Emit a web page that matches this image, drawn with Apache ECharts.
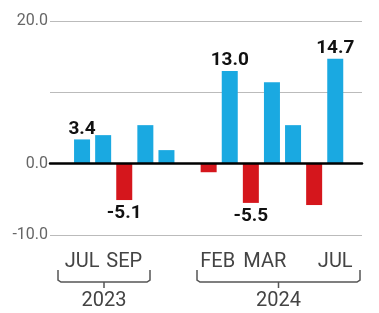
<!DOCTYPE html>
<html>
<head>
<meta charset="utf-8">
<script src="https://cdn.jsdelivr.net/npm/echarts@6/dist/echarts.min.js"></script>
<style>
  html, body { margin: 0; padding: 0; background: #fff; }
  #chart { width: 379px; height: 313px; }
</style>
</head>
<body>
<div id="chart"></div>
<script>
const months = ['JUL', 'AUG', 'SEP', 'OCT', 'NOV', 'DEC', 'JAN', 'FEB', 'MAR', 'APR', 'MAY', 'JUN', 'JUL'];
const values = [3.4, 4.0, -5.1, 5.4, 1.9, '-', -1.2, 13.0, -5.5, 11.4, 5.4, -5.8, 14.7];
const shownMonths = [0, 2, 7, 8, 12];
const labelledBars = [0, 2, 7, 8, 12];
const years = ['2023', '2024'];
const yTicks = [-10, 0, 10, 20];

const BLUE = '#1aa9e1';
const RED = '#d5161c';

const chart = echarts.init(document.getElementById('chart'));

const barData = values.map((v, i) => {
  if (v === '-') return '-';
  const item = { value: v, itemStyle: { color: v >= 0 ? BLUE : RED } };
  if (labelledBars.includes(i)) {
    item.label = {
      show: true,
      position: v >= 0 ? 'top' : 'bottom',
      distance: v >= 0 ? 1 : 4,
      formatter: (p) => p.value.toFixed(1)
    };
  }
  return item;
});

// brackets under the month labels
const bracket = (x1, x2, y) => {
  const mid = (x1 + x2) / 2;
  return [
    { type: 'polyline', shape: { points: [[x1, y - 12], [x1, y - 2], [x1 + 3, y], [x2 - 3, y], [x2, y - 2], [x2, y - 12]] },
      style: { stroke: '#555', lineWidth: 1.5, fill: null } },
    { type: 'line', shape: { x1: mid, y1: y, x2: mid, y2: y + 6 }, style: { stroke: '#555', lineWidth: 1.5 } }
  ];
};

const option = {
  animation: false,
  grid: [
    { left: 50, right: 17, top: 21, bottom: 78 },
    { left: 71.5, width: 274.3, top: 21, bottom: 78 }
  ],
  xAxis: [
    {
      gridIndex: 0, type: 'category', data: [''],
      axisLine: { show: true, onZero: true, lineStyle: { color: '#000', width: 2.5 } },
      axisTick: { show: false }, axisLabel: { show: false }, z: 5
    },
    {
      gridIndex: 1, type: 'category', data: months,
      axisLine: { show: false, onZero: false }, axisTick: { show: false },
      axisLabel: {
        margin: 17,
        interval: 0,
        formatter: (v, i) => {
          if (!shownMonths.includes(i)) return '';
          if (i === 7) return '{l|' + v + '}';
          if (i === 8) return '{r|' + v + '}';
          return v;
        },
        fontFamily: 'Roboto', fontSize: 20, color: '#444',
        rich: {
          l: { fontFamily: 'Roboto', fontSize: 20, color: '#444', padding: [0, 24, 0, 0] },
          r: { fontFamily: 'Roboto', fontSize: 20, color: '#444', padding: [0, 0, 0, 28] }
        }
      }
    }
  ],
  yAxis: [
    {
      gridIndex: 0, type: 'value', min: yTicks[0], max: yTicks[yTicks.length - 1], interval: 10,
      axisLine: { show: false }, axisTick: { show: false },
      splitLine: { lineStyle: { color: '#bbb', width: 1 } },
      axisLabel: {
        margin: 2,
        formatter: (v) => (v === 10 ? '' : v.toFixed(1)),
        fontFamily: 'Roboto', fontSize: 16, color: '#666'
      }
    },
    {
      gridIndex: 1, type: 'value', min: yTicks[0], max: yTicks[yTicks.length - 1], interval: 10,
      show: false
    }
  ],
  series: [
    {
      type: 'bar', xAxisIndex: 1, yAxisIndex: 1, data: barData, barWidth: 16,
      label: { fontFamily: 'Roboto', fontWeight: 'bold', fontSize: 19, color: '#111' }
    }
  ],
  graphic: [
    ...bracket(58, 150, 282),
    ...bracket(197, 360, 282),
    { type: 'text', x: 104, y: 291, style: { text: years[0], font: '20px Roboto', fill: '#444', textAlign: 'center' } },
    { type: 'text', x: 278.5, y: 291, style: { text: years[1], font: '20px Roboto', fill: '#444', textAlign: 'center' } }
  ]
};

chart.setOption(option);
</script>
</body>
</html>
